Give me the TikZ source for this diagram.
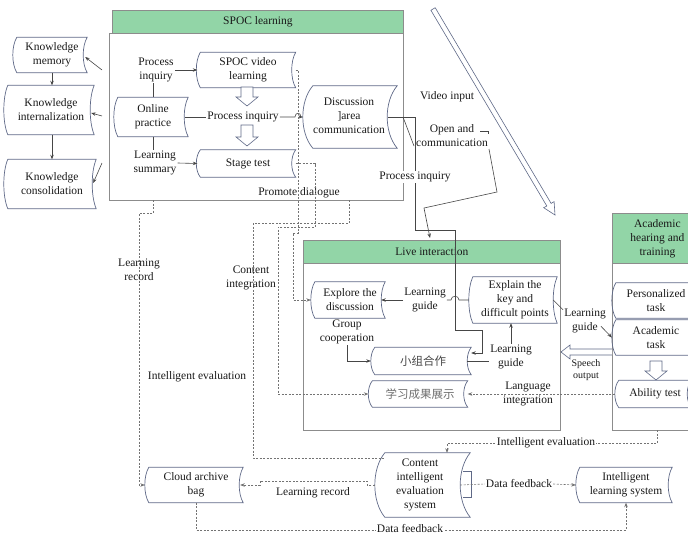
\documentclass[tikz,border=0pt]{standalone}
\usepackage{fontspec}
\setmainfont{Liberation Serif}
\newfontfamily\cjk{Noto Sans CJK SC}
\usetikzlibrary{arrows.meta,calc}

\definecolor{hdrgreen}{RGB}{146,213,167}
\definecolor{boxline}{RGB}{140,140,140}
\definecolor{shapeline}{RGB}{95,105,135}
\definecolor{conn}{RGB}{70,70,70}
\definecolor{dconn}{RGB}{115,115,115}
\definecolor{txt}{RGB}{25,25,25}
\definecolor{cjkdark}{RGB}{70,70,70}
\definecolor{cjklight}{RGB}{110,110,110}

\tikzset{
  base/.style={font=\fontsize{11.5}{14}\selectfont, text=txt},
  sdnode/.style={base, align=center, inner sep=0pt},
  lbl/.style={base, align=center, inner sep=1pt},
  wlbl/.style={lbl, fill=white},
  smalllbl/.style={lbl, font=\fontsize{10}{12}\selectfont},
  panel/.style={draw=boxline, line width=0.8pt},
  header/.style={panel, base, align=center, fill=hdrgreen},
  sdline/.style={draw=shapeline, line width=0.7pt},
  hollow/.style={draw=shapeline, line width=0.6pt, fill=white},
  tip/.style={-{Stealth[length=4.5pt,width=3.5pt]}},
  link/.style={draw=conn, line width=0.6pt},
  arr/.style={link, tip},
  dlink/.style={draw=dconn, line width=0.6pt, dash pattern=on 2pt off 1.5pt},
  darr/.style={dlink, tip},
}

% stored-data outline around a node: convex left side, concave right side
\newcommand\sdbox[2][4]{%
  \draw[sdline] let \p1=(#2.north west), \p2=(#2.south east),
    \n1={0.25*(\y1-\y2)}, \n2={1.333*#1} in
    (\x1,\y1) .. controls (\x1-\n2,\y1-\n1) and (\x1-\n2,\y2+\n1) .. (\x1,\y2)
    -- (\x2,\y2) .. controls (\x2-\n2,\y2+\n1) and (\x2-\n2,\y1-\n1) .. (\x2,\y1) -- cycle;}

% hollow block arrow pointing down: x, top y, tip y
\newcommand\hdown[3]{%
  \draw[hollow] (#1-6,#2) -- (#1+6,#2) -- (#1+6,#3-9) -- (#1+11,#3-9) -- (#1,#3)
    -- (#1-11,#3-9) -- (#1-6,#3-9) -- cycle;}

% centred text block with extra room on its right
\newcommand\padtext[2]{\begin{tabular}{@{}c@{\hspace{#1}}}#2\end{tabular}}

\begin{document}
\begin{tikzpicture}[x=1pt,y=-1pt]
\useasboundingbox (0,0) rectangle (688,535);
\clip (0,0) rectangle (688,535);

% ---------- panels ----------
\node[panel, anchor=north west, minimum width=294pt, minimum height=167pt] (spoc) at (109,33) {};
\node[header, anchor=north west, minimum width=291pt, minimum height=23pt] (spochd) at (112,10) {SPOC learning};
\node[panel, anchor=north west, minimum width=257pt, minimum height=167pt] (live) at (303,263) {};
\node[header, anchor=north west, minimum width=257pt, minimum height=23pt] (livehd) at (303,240) {Live interaction};
\node[panel, anchor=north west, minimum width=90pt, minimum height=167pt] (acad) at (612,263) {};
\node[header, anchor=north west, minimum width=90pt, minimum height=50pt] (acadhd) at (612,213) {Academic\\hearing and\\training};

% ---------- knowledge column ----------
\node[sdnode, minimum width=70pt, minimum height=35pt] (km) at (52,55) {Knowledge\\memory};
\node[sdnode, minimum width=86pt, minimum height=49pt] (ki) at (51,110) {Knowledge\\internalization};
\node[sdnode, minimum width=88pt, minimum height=49pt] (kc) at (52,184) {Knowledge\\consolidation};
\sdbox{km}\sdbox{ki}\sdbox{kc}

% ---------- SPOC learning ----------
\node[sdnode, minimum width=95pt, minimum height=35pt] (svl) at (248,70) {SPOC video\\learning};
\node[sdnode, minimum width=70pt, minimum height=39pt] (op) at (153,117) {Online\\practice};
\node[sdnode, minimum width=95pt, minimum height=27pt] (st) at (248,163.5) {Stage test};
\node[sdnode, minimum width=84pt, minimum height=62pt] (disc) at (355,117) {\padtext{12pt}{Discussion\\]area\\communication}};
\sdbox{svl}\sdbox{op}\sdbox{st}\sdbox[10]{disc}
\node[lbl] (pi1) at (156,70) {Process\\inquiry};
\node[lbl] (ls) at (155,163) {Learning\\summary};
\node[lbl] (pi2) at (243,117) {Process inquiry};
\node[wlbl] (pd) at (299,193) {Promote dialogue};
\hdown{247}{87}{106}
\hdown{247}{125}{146}

% ---------- live interaction ----------
\node[sdnode, minimum width=70pt, minimum height=36pt] (ed) at (350,300) {Explore the\\discussion};
\node[sdnode, minimum width=84pt, minimum height=46pt] (ek) at (515,300) {Explain the\\key and\\difficult points};
\node[sdnode, minimum width=96pt, minimum height=27pt, text=cjkdark] (xz) at (423,361) {\cjk 小组合作};
\node[sdnode, minimum width=95pt, minimum height=26pt, text=cjklight] (xx) at (420,394) {\cjk 学习成果展示};
\sdbox{ed}\sdbox{ek}\sdbox{xz}\sdbox{xx}

% ---------- academic hearing and training ----------
\node[sdnode, minimum width=80pt, minimum height=35pt] (pt) at (656,300.5) {Personalized\\task};
\node[sdnode, minimum width=80pt, minimum height=35pt] (at) at (656,337.5) {Academic\\task};
\node[sdnode, minimum width=72pt, minimum height=27pt] (ab) at (655,394) {Ability test};
\sdbox{pt}\sdbox{at}\sdbox{ab}
\hdown{656}{361}{380}
% speech output towards the live panel
\draw[hollow] (612,349) -- (570,349) -- (570,345) -- (561,352) -- (570,359) -- (570,355) -- (612,355);

% ---------- evaluation row ----------
\node[sdnode, minimum width=94pt, minimum height=35pt] (cab) at (196,485) {Cloud archive\\bag};
\node[sdnode, minimum width=85pt, minimum height=64pt] (cie) at (427.5,485) {\padtext{15pt}{Content\\intelligent\\evaluation\\system}};
\node[sdnode, minimum width=92pt, minimum height=35pt] (ils) at (626,485) {Intelligent\\learning system};
\sdbox{cab}\sdbox[10]{cie}\sdbox{ils}
\draw[sdline] ([xshift=-7pt,yshift=14pt]cie.east) -| ([xshift=1pt,yshift=-12pt]cie.east) -- ([xshift=-7pt,yshift=-12pt]cie.east);

% ---------- video input ----------
\draw[hollow] (430.9,10.3) -- (546.8,206.0) -- (543.7,207.7) -- (555,215) -- (554.1,201.6)
  -- (551.1,203.4) -- (435.2,7.7) -- cycle;
\node[lbl] (vi) at (447,97) {Video input};

% ---------- solid connectors ----------
\draw[arr] (km.south) -- (km.south |- ki.north);
\draw[arr] (km.south |- ki.south) -- (km.south |- kc.north);
\coordinate (o1) at (102,70);
\coordinate (o2) at (102,116);
\coordinate (o3) at (102,163);
\draw[arr] (o1) -- ([xshift=-2pt,yshift=-2pt]km.east);
\draw[arr] (o2) -- ([xshift=-3pt,yshift=-3pt]ki.east);
\draw[arr] (o3) -- ([xshift=-3pt,yshift=1pt]kc.east);

\draw[arr] (pi1.east) -- ([xshift=-3pt]svl.west);
\draw[link] (pi1.south -| op.north) -- (op.north);
\draw[link] (op.south) -- (op.south |- ls.north);
\draw[arr] (ls.east) -- ([xshift=-3pt]st.west);
\draw[link] ([xshift=-3pt]op.east) -- (pi2.west);
\draw[arr] (pi2.east) -- (295,117) .. controls (295,112) and (301,112) .. (301,117) -- ([xshift=-10pt]disc.west);

% process inquiry towards group work
\draw[arr] ([xshift=-9pt]disc.east) -- (415,117) -- (415,230) -- (455,230) -- (455,330)
  -- (482,330) -- (482,353) -- (xz.east |- 0,353);
\node[wlbl] (pi3) at (415,177) {Process inquiry};

% open communication into the live panel
\coordinate (b0) at (403,117);
\coordinate (b1) at (414,146);
\draw[link] (b0) -- (b1);
\node[lbl] (oc) at (452,136) {Open and\\communication};
\coordinate (b2) at (480,131);
\draw[link] (b2) -- (488,131) -- (488,134);
\coordinate (b3) at (489,149);
\draw[arr] (b3) -- (497,192) -- (424,208) -- (430,238);

\node[wlbl] (lg1) at (425,300) {Learning\\guide};
\draw[link] ([xshift=-4pt]ek.west) -- (459,300) .. controls (459,295) and (451,295) .. (451,300) -- (lg1.east);
\draw[arr] (lg1.west) -- ([xshift=-4pt]ed.east);

\node[lbl] (gc) at (347,332) {Group\\cooperation};
\draw[arr] (gc.south) |- ([xshift=-4pt]xz.west);

\node[lbl] (lg2) at (511,357) {Learning\\guide};
\draw[link] ([xshift=-4pt]xz.east) -- (xz.east -| lg2.west);
\draw[arr] (lg2.north) -- (lg2.north |- ek.south);

\node[lbl] (lg3) at (585,321) {Learning\\guide};
\draw[link] ([xshift=-4pt]ek.east) -- ([yshift=-2pt]lg3.north west);
\draw[arr] ([xshift=-6pt,yshift=8pt]lg3.south east) -- ([xshift=-4pt]at.west);
\node[smalllbl] (so) at (586,370) {Speech\\output};

% ---------- dashed connectors ----------
\draw[darr] (svl.east) -- (298,70) -- (298,233) -- (293,233) -- (293,300) -- ([xshift=-4pt]ed.west);
\draw[darr] (st.east) -- (315,163.5) -- (315,227) -- (278,227) -- (278,394) -- ([xshift=-4pt]xx.west);
\coordinate (p1) at (349,200);
\draw[dlink] (p1) -- (349,223) -- (253,223) -- (253,458) -- (cie.north west |- 0,458);
\coordinate (p2) at (153,200);
\draw[darr] (p2) -- (153,213) -- (139,213) -- (139,485) -- ([xshift=-4pt]cab.west);
\draw[darr] ([xshift=-4pt]ab.west) -- (xx.east);
\node[lbl] (li) at (528,394) {Language\\integration};

\draw[darr] ([xshift=-10pt]cie.west) -- (367,485) -- (367,481) -- (260,481) -- (260,485) -- ([xshift=-3pt]cab.east);
\node[lbl] (lr2) at (313,493) {Learning record};

\node[wlbl] (df1) at (519,484) {Data feedback};
\draw[dlink] ([xshift=-10pt]cie.east) -- (df1.west);
\draw[darr] (df1.east) -- ([xshift=-4pt]ils.west);

\draw[darr] (cab.south) |- (ils.south |- 0,530) -- (ils.south);
\node[wlbl, inner ysep=0pt] (df2) at (410,528.5) {Data feedback};

\coordinate (p3) at (657,430);
\draw[darr] (p3) -- (657,443) -- (447,443) -- (cie.north -| 447,0);
\node[wlbl] (ie2) at (546,443) {Intelligent evaluation};

\node[lbl] (lr1) at (139,270) {Learning\\record};
\node[lbl] (ci) at (251,278) {Content\\integration};
\node[lbl] (ie1) at (197,377) {Intelligent evaluation};
\end{tikzpicture}
\end{document}
